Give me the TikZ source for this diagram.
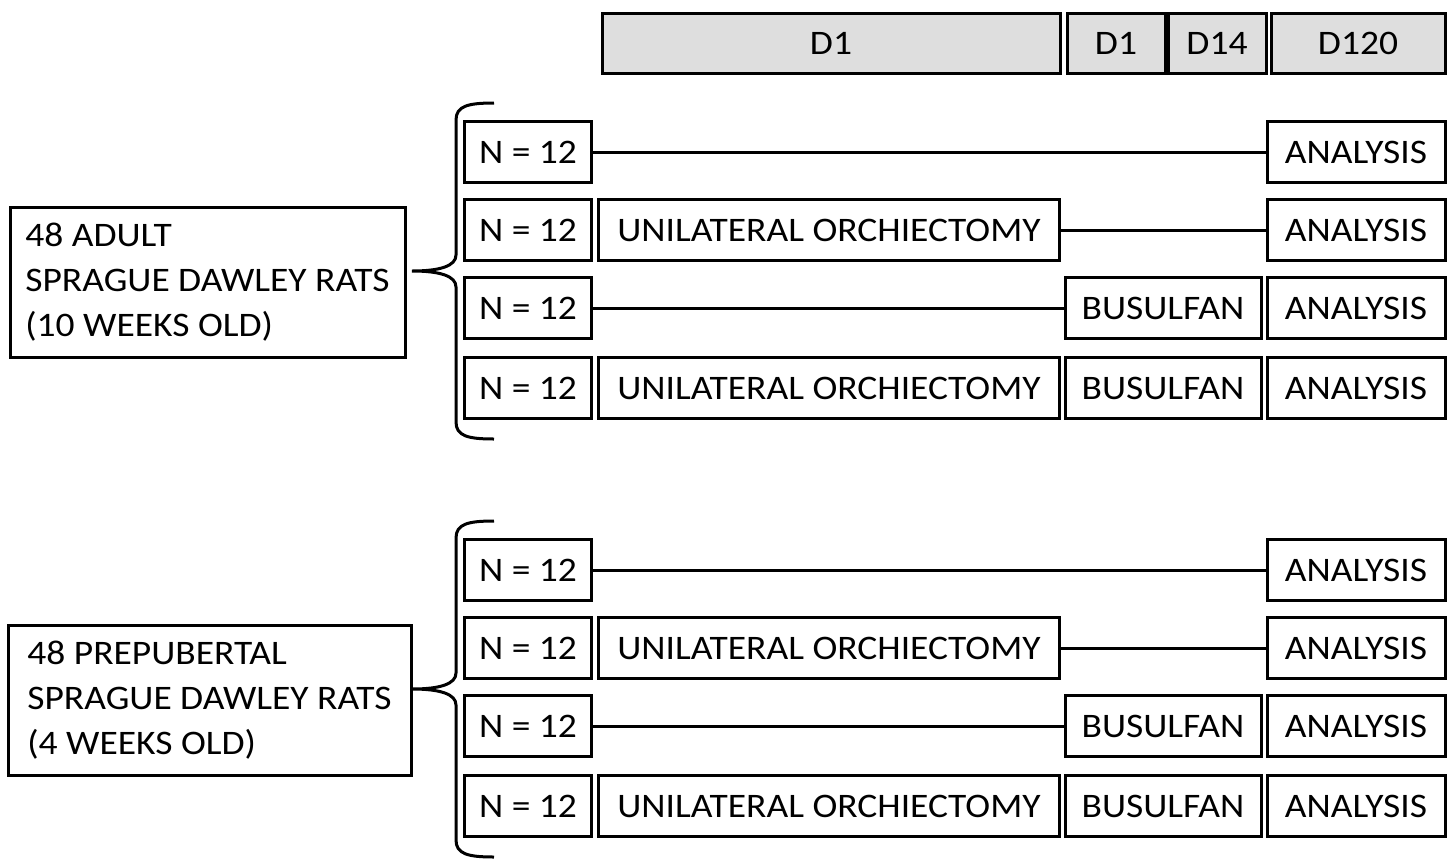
\documentclass[tikz,border=0pt]{standalone}
\usepackage{fontspec}
\setmainfont{Carlito}[FakeStretch=1.09]
\tikzset{
every picture/.style={
line width=1.5pt
},
box/.style={draw, rectangle, inner sep=0pt, minimum height=30.5pt, font=\fontsize{17.2}{22.5}\selectfont},
day/.style={box, fill=black!13, minimum height=30pt}
}

\begin{document}
\begin{tikzpicture}[x=0.5pt,y=-0.5pt]
\useasboundingbox (0,0) rectangle (1453,858);

% days
\node[day, minimum width=229pt] (d1a) at (831,43) {D1};
\node[day, minimum width=49pt] (d1b) at (1116,43) {D1};
\node[day, minimum width=49pt] (d14) at (1217,43) {D14};
\node[day, minimum width=87pt] (d120) at (1358,43) {D120};

\foreach \g/\oy/\cx/\w/\txt in {a/0/207.5/197.5pt/{48 ADULT\\SPRAGUE DAWLEY RATS\\(10 WEEKS OLD)}, p/418/209.5/201.5pt/{48 PREPUBERTAL\\SPRAGUE DAWLEY RATS\\(4 WEEKS OLD)}}{
  \node[box, align=left, minimum width=\w, minimum height=75pt] (\g-rats) at (\cx,282+\oy) {\txt};

  \foreach \r/\y in {1/152, 2/230, 3/308, 4/388}{
    \node[box, minimum width=63.5pt] (\g-n\r) at (528,\y+\oy) {N = 12};
    \node[box, minimum width=89pt] (\g-a\r) at (1356,\y+\oy) {ANALYSIS};
  }
  \foreach \r/\y in {2/230, 4/388}
    \node[box, minimum width=230.5pt] (\g-u\r) at (829,\y+\oy) {UNILATERAL ORCHIECTOMY};
  \foreach \r/\y in {3/308, 4/388}
    \node[box, minimum width=98pt] (\g-b\r) at (1163,\y+\oy) {BUSULFAN};

  \draw (\g-n1) -- (\g-a1);
  \draw (\g-u2) -- (\g-a2);
  \draw (\g-n3) -- (\g-b3);

  % brace
  \coordinate (\g-tip) at (412,271+\oy);
  \draw (494,103+\oy) .. controls (468,103+\oy) and (456,106+\oy) .. (456,120+\oy) -- (456,255+\oy)
    .. controls (456,266+\oy) and (440,271+\oy) .. (\g-tip)
    .. controls (440,271+\oy) and (456,276+\oy) .. (456,287+\oy) -- (456,422+\oy)
    .. controls (456,436+\oy) and (468,439+\oy) .. (494,439+\oy);
}
\end{tikzpicture}
\end{document}
